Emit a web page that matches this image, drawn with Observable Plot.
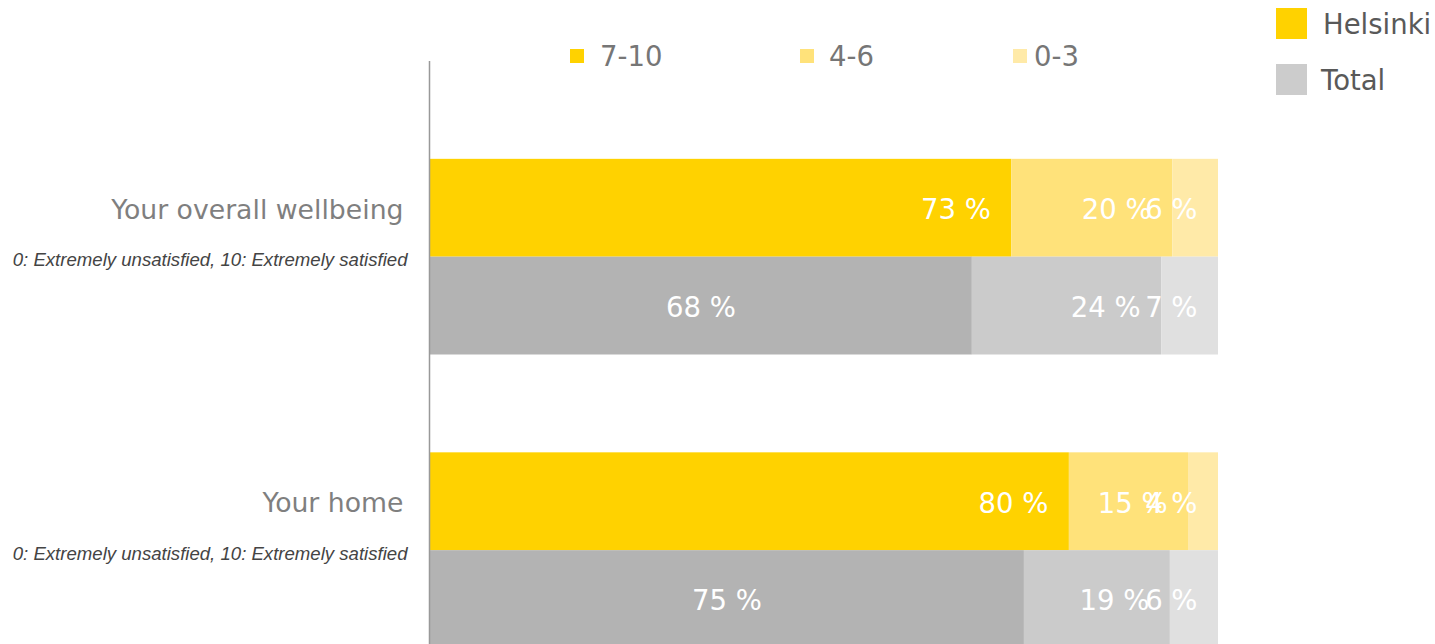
<!DOCTYPE html>
<html>
<head>
<meta charset="utf-8">
<script src="https://cdn.jsdelivr.net/npm/d3@7"></script>
<script src="https://cdn.jsdelivr.net/npm/@observablehq/plot@0.6"></script>
<style>
  html, body { margin: 0; padding: 0; background: #fff; overflow: hidden; }
  #wrap { position: relative; width: 1435px; height: 644px; overflow: hidden; font-family: "DejaVu Sans", Verdana, sans-serif; }
  #chart { position: absolute; left: 0; top: 0; }
  .lg { position: absolute; display: flex; align-items: center; }
  .sw { display: inline-block; }
</style>
</head>
<body>
<div id="wrap">
  <div id="chart"></div>
  <div id="legendTop"></div>
  <div id="legendRight"></div>
</div>
<script>
// ---- data ----
const categories = ["Your overall wellbeing", "Your home"];
const subtitles = ["0: Extremely unsatisfied, 10: Extremely satisfied", "0: Extremely unsatisfied, 10: Extremely satisfied"];
const groups = ["Helsinki", "Total"];
const bands = ["7-10", "4-6", "0-3"];

// values per category (wellbeing, home)
const helsinki_7_10 = [73.8, 81.1];
const helsinki_4_6  = [20.4, 15.1];
const helsinki_0_3  = [5.8, 3.8];
const total_7_10    = [68.8, 75.4];
const total_4_6     = [24.0, 18.5];
const total_0_3     = [7.2, 6.1];

// printed labels
const helsinkiLabels_7_10 = ["73 %", "80 %"];
const helsinkiLabels_4_6  = ["20 %", "15 %"];
const helsinkiLabels_0_3  = ["6 %", "4 %"];
const totalLabels_7_10    = ["68 %", "75 %"];
const totalLabels_4_6     = ["24 %", "19 %"];
const totalLabels_0_3     = ["7 %", "6 %"];

const helsinkiColors = ["#FFD200", "#FFE27A", "#FFEAA8"];
const totalColors    = ["#B3B3B3", "#CBCBCB", "#E0E0E0"];
const legendGroupColors = ["#FFD200", "#CCCCCC"];

// ---- build table ----
const valueTable = {
  Helsinki: [helsinki_7_10, helsinki_4_6, helsinki_0_3],
  Total: [total_7_10, total_4_6, total_0_3]
};
const labelTable = {
  Helsinki: [helsinkiLabels_7_10, helsinkiLabels_4_6, helsinkiLabels_0_3],
  Total: [totalLabels_7_10, totalLabels_4_6, totalLabels_0_3]
};
const data = [];
categories.forEach((c, ci) => {
  groups.forEach(g => {
    bands.forEach((b, bi) => {
      data.push({
        category: c,
        group: g,
        band: b,
        row: c + "|" + g,
        key: g + " " + b,
        value: valueTable[g][bi][ci],
        label: labelTable[g][bi][ci]
      });
    });
  });
});

const rowDomain = ["top"];
categories.forEach((c, i) => {
  if (i > 0) rowDomain.push("gap" + i);
  groups.forEach(g => rowDomain.push(c + "|" + g));
});

const colorDomain = [];
const colorRange = [];
groups.forEach((g, gi) => bands.forEach((b, bi) => {
  colorDomain.push(g + " " + b);
  colorRange.push(gi === 0 ? helsinkiColors[bi] : totalColors[bi]);
}));

const centered = d => d.group === "Total" && d.band === bands[0];

const catRows = categories.map((c, i) => ({category: c, subtitle: subtitles[i], row: c + "|" + groups[0]}));

const chart = Plot.plot({
  width: 1435,
  height: 648,
  marginLeft: 429,
  marginRight: 217,
  marginTop: 61,
  marginBottom: 0,
  style: {fontFamily: "'DejaVu Sans', Verdana, sans-serif", background: "transparent"},
  x: {domain: [0, 100], axis: null},
  y: {domain: rowDomain, axis: null, padding: 0, round: false},
  color: {domain: colorDomain, range: colorRange},
  marks: [
    Plot.barX(data, Plot.stackX({x: "value", y: "row", fill: "key", order: bands, z: "band"})),
    Plot.text(data, Plot.stackX2({x: "value", y: "row", z: "band", order: bands,
      text: d => centered(d) ? "" : d.label, textAnchor: "end", dx: -21, dy: 2,
      fill: "white", fontSize: 27.5})),
    Plot.text(data, Plot.stackX({x: "value", y: "row", z: "band", order: bands,
      text: d => centered(d) ? d.label : "", textAnchor: "middle", dy: 2,
      fill: "white", fontSize: 27.5})),
    Plot.ruleX([0], {stroke: "#999999", strokeWidth: 1.5}),
    Plot.text(catRows, {y: "row", text: "category", frameAnchor: "left", textAnchor: "end",
      dx: -26, dy: 2, fill: "#7f7f7f", fontSize: 26.7}),
    Plot.text(catRows, {y: "row", text: "subtitle", frameAnchor: "left", textAnchor: "end",
      dx: -22, dy: 52, fill: "#444444", fontSize: 18.6, fontStyle: "italic",
      fontFamily: "'Liberation Sans', Arial, sans-serif"})
  ]
});
document.getElementById("chart").appendChild(chart);

// ---- legends ----
const lt = document.getElementById("legendTop");
const topPos = [570, 800, 1013];
const topGap = [16, 15, 7];
bands.forEach((b, i) => {
  const el = document.createElement("div");
  el.className = "lg";
  el.style.left = topPos[i] + "px";
  el.style.top = "38px";
  el.style.height = "36px";
  el.innerHTML = `<span class="sw" style="width:14px;height:14px;background:${helsinkiColors[i]};margin-right:${topGap[i]}px"></span><span style="font-size:27.5px;color:#767676">${b}</span>`;
  lt.appendChild(el);
});
const lr = document.getElementById("legendRight");
const rightTop = [5, 61];
groups.forEach((g, i) => {
  const el = document.createElement("div");
  el.className = "lg";
  el.style.left = "1276px";
  el.style.top = rightTop[i] + "px";
  el.style.height = "37px";
  el.innerHTML = `<span class="sw" style="width:31px;height:31px;background:${legendGroupColors[i]};margin-right:${i === 0 ? 16 : 14}px"></span><span style="font-size:27.5px;color:#595959;white-space:nowrap">${g}</span>`;
  lr.appendChild(el);
});
</script>
</body>
</html>
